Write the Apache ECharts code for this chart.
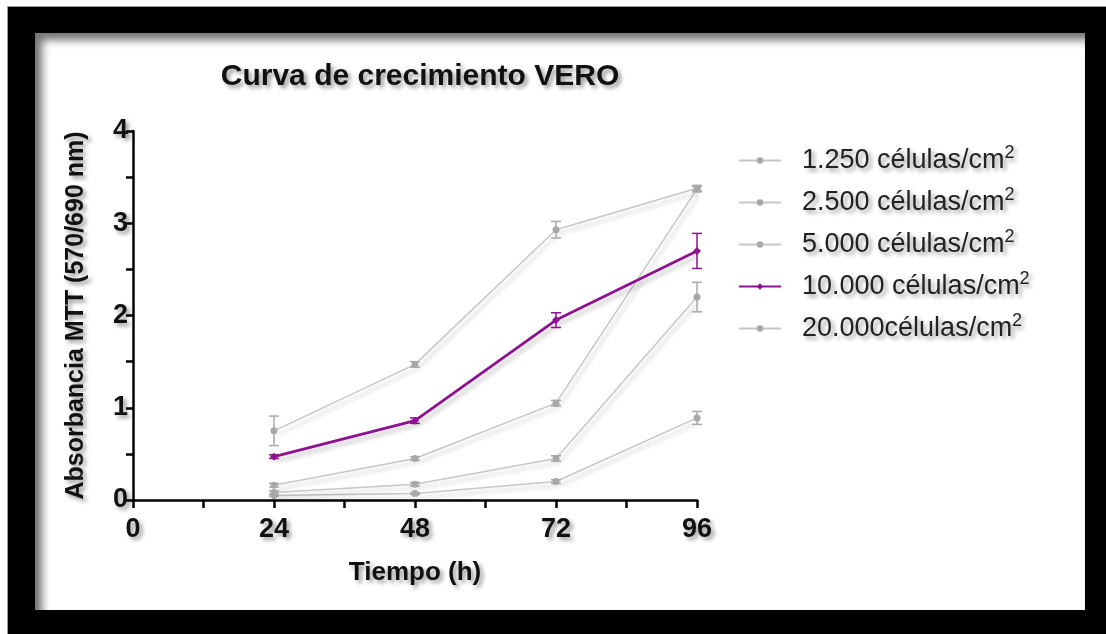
<!DOCTYPE html>
<html>
<head>
<meta charset="utf-8">
<script src="https://cdn.jsdelivr.net/npm/echarts@6/dist/echarts.min.js"></script>
<style>
  html, body { margin: 0; padding: 0; background: #fff; }
  #frame { position: absolute; left: 7px; top: 6px; right: 0; bottom: 0; background: #000; border-left: 1px solid #999; border-top: 1px solid #999; }
  #panel { position: absolute; left: 35px; top: 33px; width: 1050px; height: 577px; background: #fff; box-shadow: inset 7px 7px 9px rgba(0,0,0,0.55); }
  #chart { position: absolute; left: 0; top: 0; width: 1106px; height: 634px; }
</style>
</head>
<body>
<div id="frame"></div>
<div id="panel"></div>
<div id="chart"></div>
<script>
  // hours and mean absorbance per seeding density
  var hours = [24, 48, 72, 96];
  var names = ['1.250 células/cm', '2.500 células/cm', '5.000 células/cm', '10.000 células/cm', '20.000células/cm'];
  var d1250 = [0.05, 0.07, 0.20, 0.89];
  var d2500 = [0.08, 0.17, 0.45, 2.20];
  var d5000 = [0.16, 0.45, 1.05, 3.37];
  var d10000 = [0.47, 0.86, 1.95, 2.70];
  var d20000 = [0.75, 1.47, 2.93, 3.38];
  // error bar half heights
  var e1250 = [0.01, 0.01, 0.02, 0.07];
  var e2500 = [0.02, 0.02, 0.03, 0.16];
  var e5000 = [0.02, 0.02, 0.03, 0.03];
  var e10000 = [0.02, 0.03, 0.08, 0.19];
  var e20000 = [0.16, 0.03, 0.09, 0.03];

  var means = [d1250, d2500, d5000, d10000, d20000];
  var errs = [e1250, e2500, e5000, e10000, e20000];
  var colors = ['#c6c6c6', '#c6c6c6', '#c6c6c6', '#8f1093', '#c6c6c6'];
  var dotColors = ['#a8a8a8', '#a8a8a8', '#a8a8a8', '#8f1093', '#a8a8a8'];

  var fontFam = '"Liberation Sans", Arial, sans-serif';
  var shadowTxt = {
    textShadowColor: 'rgba(0,0,0,0.4)',
    textShadowBlur: 4,
    textShadowOffsetX: 3,
    textShadowOffsetY: 3
  };

  var myChart = echarts.init(document.getElementById('chart'));

  var series = [];
  for (var i = 0; i < means.length; i++) {
    var pts = [];
    var bars = [];
    for (var j = 0; j < hours.length; j++) {
      pts.push([hours[j], means[i][j]]);
      bars.push([hours[j], means[i][j] - errs[i][j], means[i][j] + errs[i][j]]);
    }
    var purple = i === 3;
    series.push({
      name: names[i],
      type: 'line',
      data: pts,
      symbol: purple ? 'diamond' : 'circle',
      symbolSize: purple ? 8 : 7,
      itemStyle: { color: dotColors[i] },
      lineStyle: {
        color: colors[i],
        width: purple ? 2.8 : 1.5,
        shadowColor: 'rgba(0,0,0,0.22)',
        shadowBlur: 4,
        shadowOffsetX: 3,
        shadowOffsetY: 4
      },
      z: purple ? 4 : 3,
      animation: false
    });
    series.push({
      name: 'err' + i,
      type: 'custom',
      data: bars,
      z: 5,
      animation: false,
      renderItem: (function (col) {
        return function (params, api) {
          var lo = api.coord([api.value(0), api.value(1)]);
          var hi = api.coord([api.value(0), api.value(2)]);
          var w = 5;
          var st = { stroke: col, lineWidth: 1.5 };
          return {
            type: 'group',
            children: [
              { type: 'line', shape: { x1: lo[0], y1: lo[1], x2: hi[0], y2: hi[1] }, style: st },
              { type: 'line', shape: { x1: lo[0] - w, y1: lo[1], x2: lo[0] + w, y2: lo[1] }, style: st },
              { type: 'line', shape: { x1: hi[0] - w, y1: hi[1], x2: hi[0] + w, y2: hi[1] }, style: st }
            ]
          };
        };
      })(dotColors[i])
    });
  }

  var option = {
    backgroundColor: 'transparent',
    title: {
      text: 'Curva de crecimiento VERO',
      left: 415,
      top: 57,
      textAlign: 'center',
      textStyle: Object.assign({ fontFamily: fontFam, fontSize: 30, fontWeight: 'bold', color: '#111' }, shadowTxt)
    },
    legend: {
      data: names,
      orient: 'vertical',
      left: 733,
      top: 139,
      itemWidth: 42,
      itemHeight: 8,
      itemGap: 12,
      formatter: function (n) { return '{a|' + n + '}{s|2}'; },
      textStyle: {
        padding: [0, 0, 0, 16],
        rich: {
          a: Object.assign({ fontFamily: fontFam, fontSize: 27, color: '#222', lineHeight: 33 }, shadowTxt),
          s: Object.assign({ fontFamily: fontFam, fontSize: 18, color: '#222', verticalAlign: 'top', lineHeight: 18 }, shadowTxt)
        }
      }
    },
    grid: { left: 133, right: 409, top: 131, bottom: 134 },
    xAxis: {
      type: 'value',
      min: 0,
      max: 96,
      interval: 24,
      name: 'Tiempo (h)',
      nameLocation: 'middle',
      nameGap: 60,
      nameTextStyle: Object.assign({ fontFamily: fontFam, fontSize: 26, fontWeight: 'bold', color: '#111' }, shadowTxt),
      splitLine: { show: false },
      axisLine: { lineStyle: { color: '#000', width: 2.5 } },
      axisTick: { length: 8, lineStyle: { color: '#000', width: 2.5 } },
      minorTick: { show: true, splitNumber: 2, length: 8, lineStyle: { color: '#000', width: 2.5 } },
      axisLabel: Object.assign({ fontFamily: fontFam, fontSize: 27, fontWeight: 'bold', color: '#111', margin: 16 }, shadowTxt)
    },
    yAxis: {
      type: 'value',
      min: 0,
      max: 4,
      interval: 1,
      name: 'Absorbancia MTT (570/690 nm)',
      nameLocation: 'middle',
      nameGap: 44,
      nameTextStyle: Object.assign({ fontFamily: fontFam, fontSize: 25, fontWeight: 'bold', color: '#111' }, shadowTxt),
      splitLine: { show: false },
      axisLine: { show: true, lineStyle: { color: '#000', width: 2.5 } },
      axisTick: { show: true, length: 7, lineStyle: { color: '#000', width: 2.5 } },
      minorTick: { show: true, splitNumber: 2, length: 7, lineStyle: { color: '#000', width: 2.5 } },
      axisLabel: Object.assign({ fontFamily: fontFam, fontSize: 27, fontWeight: 'bold', color: '#111', margin: 5 }, shadowTxt)
    },
    series: series
  };
  myChart.setOption(option);
</script>
</body>
</html>
